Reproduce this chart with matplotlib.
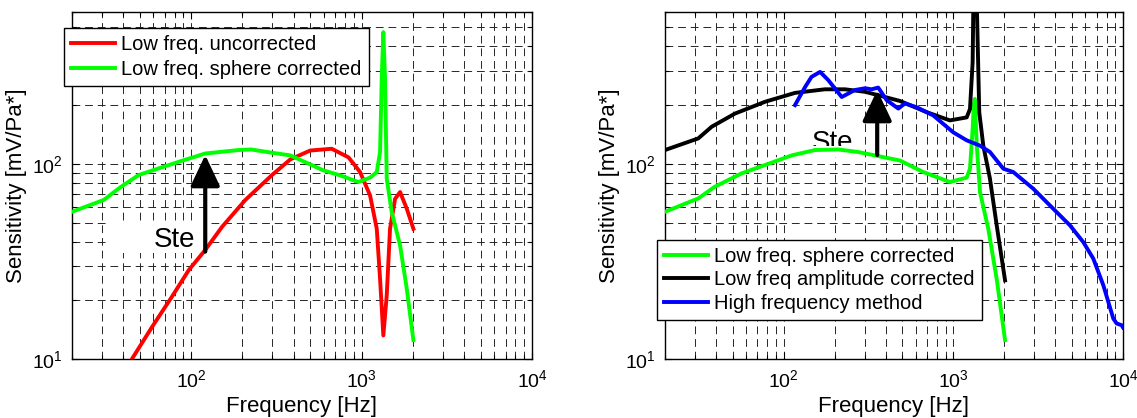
import matplotlib
matplotlib.use("Agg")
import matplotlib.pyplot as plt
from matplotlib.ticker import LogLocator, LogFormatterSciNotation, NullFormatter
from matplotlib.patches import Rectangle
import numpy as np

plt.rcParams['font.family'] = ['Liberation Sans', 'DejaVu Sans']
plt.rcParams['mathtext.fontset'] = 'custom'
plt.rcParams['mathtext.rm'] = 'Liberation Sans'
plt.rcParams['mathtext.it'] = 'Liberation Sans:italic'
plt.rcParams['mathtext.bf'] = 'Liberation Sans:bold'

# ---------------- data ----------------
freq_red = [42, 59, 77, 97, 121, 152, 208, 298, 382, 499, 668, 838, 980, 1122,
            1228, 1284, 1342, 1405, 1469, 1573, 1683, 1842, 2014]
sens_red = [9.1, 14.6, 20.8, 28.6, 36.2, 47.6, 65.3, 87.6, 105.4, 117, 119.5, 108,
            90.8, 68.9, 46.5, 25.7, 13.2, 21.2, 46.5, 66.2, 71.7, 58.9, 46.5]

freq_green_left = [20, 30.7, 38.4, 49.2, 64.5, 88.4, 121, 190, 225, 298, 382, 597,
                   748, 958, 1122, 1228, 1284, 1313, 1342, 1373, 1405, 1503, 1683,
                   1842, 2014]
sens_green_left = [56.8, 65.3, 75.8, 87.6, 94.8, 103.7, 113, 117.7, 118.5, 114, 110.5,
                   92.6, 87.3, 80.7, 85, 90.8, 115, 273, 473, 273, 84, 56.6, 38.2,
                   22.9, 12.5]

freq_green_right = [20, 31.4, 39.3, 56.6, 77.7, 111.6, 153, 210, 275, 361, 485, 665,
                    955, 1199, 1254, 1300, 1320, 1340, 1374, 1436, 1607, 1802, 2018]
sens_green_right = [56.8, 66.5, 76.3, 89.4, 98.6, 110.5, 117.7, 118.5, 115, 109.6, 104,
                    90.8, 80.7, 85, 94.4, 151, 200, 215, 125, 71.7, 46.5, 25.7, 12.5]

freq_black = [20, 31.4, 37.7, 51.7, 77.7, 116.7, 175, 230, 302, 396, 485, 697, 955,
              1199, 1254, 1300, 1320, 1340, 1361, 1422, 1502, 1644, 1802, 2018]
sens_black = [117.7, 135, 155, 181, 208, 231, 241, 241, 234, 220, 210, 184, 167, 173,
              191, 332, 1000, 3000, 1000, 184, 124, 84, 48.4, 25.3]

freq_blue = [116.7, 134, 146, 164, 183, 220, 263, 302, 330, 361, 405, 474, 519, 608,
             762, 1000, 1199, 1436, 1644, 1973, 2256, 2958, 3880, 4869, 5836, 6683,
             7653, 8770, 9180, 9820, 10000]
sens_blue = [200, 248, 279, 296, 269, 220, 239, 244, 241, 246, 212, 192, 204, 195,
             177, 145, 132, 124, 115, 94.4, 90.8, 74.6, 58.9, 48.4, 39.7, 32.7, 23.9,
             16.1, 15.2, 14.9, 14.5]

labels_left = ['Low freq. uncorrected', 'Low freq. sphere corrected']
labels_right = ['Low freq. sphere corrected', 'Low freq amplitude corrected',
                'High frequency method']

xlim = (20, 10000)
ylim = (10, 600)
xlabel = 'Frequency [Hz]'
ylabel = 'Sensitivity [mV/Pa*]'

# annotations (data coords)
arrow_left = ((121, 35.5), (121, 111))
arrow_right = ((356, 111), (356, 239))
step_text = 'Ste'
step_left_pos = (60.3, 37.6)
step_right_pos = (146, 117.7)
# white masks behind the clipped text (axes fractions: x0, y0, w, h)
mask_left = (0.083, 0.305, 0.204, 0.09)
mask_right_low = (0.225, 0.588, 0.21, 0.026)

# ---------------- figure ----------------
W, H = 1137, 418
fig = plt.figure(figsize=(W / 100, H / 100), dpi=100)


def px_axes(x0, y0, x1, y1):
    return fig.add_axes([x0 / W, 1 - y1 / H, (x1 - x0) / W, (y1 - y0) / H])


axL = px_axes(72, 12, 532, 359)
axR = px_axes(665, 12, 1123, 359)

LW = 2.8
GREEN = '#00ff00'


def style(ax):
    ax.set_xscale('log')
    ax.set_yscale('log')
    ax.set_xlim(*xlim)
    ax.set_ylim(*ylim)
    ax.xaxis.set_major_locator(LogLocator(base=10, numticks=10))
    ax.yaxis.set_major_locator(LogLocator(base=10, numticks=10))
    ax.xaxis.set_minor_locator(LogLocator(base=10, subs=np.arange(2, 10), numticks=20))
    ax.yaxis.set_minor_locator(LogLocator(base=10, subs=np.arange(2, 10), numticks=20))
    ax.xaxis.set_minor_formatter(NullFormatter())
    ax.yaxis.set_minor_formatter(NullFormatter())
    ax.xaxis.set_major_formatter(LogFormatterSciNotation())
    ax.yaxis.set_major_formatter(LogFormatterSciNotation())
    ax.grid(True, which='both', linestyle=(0, (8, 5)), color='0.15', linewidth=0.7)
    ax.tick_params(which='both', direction='in', top=True, right=True,
                   labelsize=14, width=0.8, color='black')
    ax.tick_params(which='major', length=5, pad=7)
    ax.tick_params(which='minor', length=3)
    for s in ax.spines.values():
        s.set_linewidth(1.0)
        s.set_color('black')
    ax.set_xlabel(xlabel, fontsize=16, labelpad=4)
    ax.set_ylabel(ylabel, fontsize=16, labelpad=3)
    ax.set_axisbelow(True)


def arrow(ax, start, end):
    ax.annotate('', xy=end, xytext=start,
                arrowprops=dict(arrowstyle='-|>,head_length=0.95,head_width=0.45',
                                mutation_scale=20, lw=3.0, color='black',
                                shrinkA=0, shrinkB=0), zorder=6)


def mask(ax, rect, z):
    ax.add_patch(Rectangle(rect[:2], rect[2], rect[3], transform=ax.transAxes,
                           facecolor='white', edgecolor='none', zorder=z))


# left
style(axL)
mask(axL, mask_left, 2.5)
axL.plot(freq_red, sens_red, color='red', lw=LW, label=labels_left[0], zorder=4)
axL.plot(freq_green_left, sens_green_left, color=GREEN, lw=LW, label=labels_left[1], zorder=4)
axL.text(*step_left_pos, step_text, fontsize=20, ha='left', va='baseline', zorder=3)
arrow(axL, *arrow_left)
legL = axL.legend(loc='upper left', bbox_to_anchor=(64 / W, 1 - 28 / H),
                  bbox_transform=fig.transFigure, borderaxespad=0, fontsize=14.5,
                  fancybox=False, framealpha=1, edgecolor='black', handlelength=2.2,
                  handletextpad=0.3, borderpad=0.35, labelspacing=0.3)
legL.get_frame().set_linewidth(1.0)
legL.set_zorder(10)

# right
style(axR)
axR.text(*step_right_pos, step_text, fontsize=20, ha='left', va='baseline', zorder=3,
         bbox=dict(facecolor='white', edgecolor='none', pad=1))
mask(axR, mask_right_low, 3.5)
axR.plot(freq_green_right, sens_green_right, color=GREEN, lw=LW, label=labels_right[0], zorder=4)
axR.plot(freq_black, sens_black, color='black', lw=LW, label=labels_right[1], zorder=4)
axR.plot(freq_blue, sens_blue, color='blue', lw=LW, label=labels_right[2], zorder=4)
arrow(axR, *arrow_right)
legR = axR.legend(loc='upper left', bbox_to_anchor=(657 / W, 1 - 240 / H),
                  bbox_transform=fig.transFigure, borderaxespad=0, fontsize=14.5,
                  fancybox=False, framealpha=1, edgecolor='black', handlelength=2.2,
                  handletextpad=0.3, borderpad=0.35, labelspacing=0.22)
legR.get_frame().set_linewidth(1.0)
legR.set_zorder(10)

fig.savefig('out.png', dpi=100)
